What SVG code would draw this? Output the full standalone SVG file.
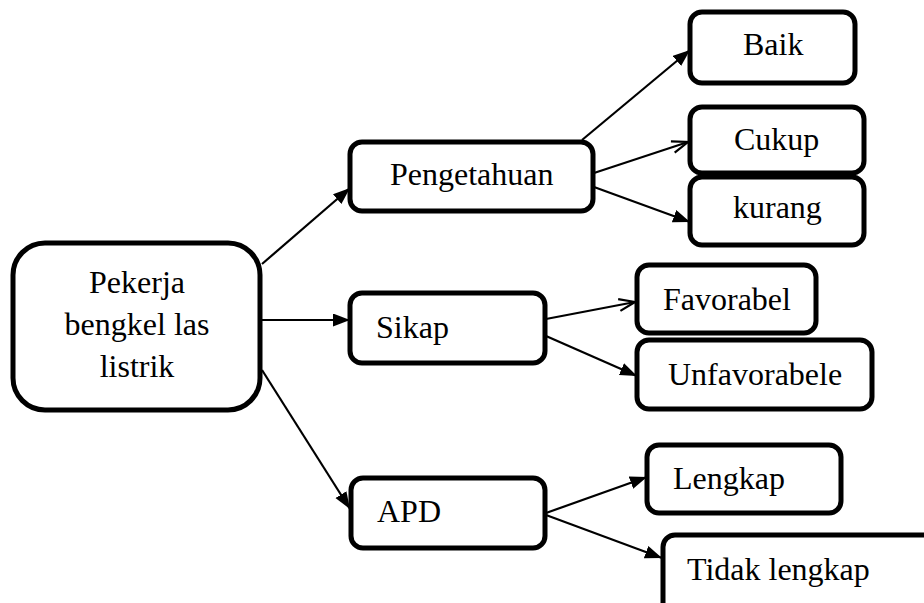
<svg xmlns="http://www.w3.org/2000/svg" width="924" height="603" viewBox="0 0 924 603">
<style>
.box{fill:#fff;stroke:#000;stroke-width:5}
.c{fill:none;stroke:#000;stroke-width:2.2}
</style>
<defs>
<marker id="af" markerUnits="userSpaceOnUse" markerWidth="18" markerHeight="14" refX="17" refY="6.5" orient="auto">
<path d="M0,0 L17,6.5 L0,13 z" fill="#000"/>
</marker>
<marker id="ao" markerUnits="userSpaceOnUse" markerWidth="20" markerHeight="16" refX="17" refY="7" orient="auto">
<path d="M1,1 L17,7 L1,13" fill="none" stroke="#000" stroke-width="2.2"/>
</marker>
</defs>
<rect width="924" height="603" fill="#fff"/>
<g id="connectors">
<line class="c" x1="262" y1="264" x2="350" y2="188" marker-end="url(#af)"/>
<line class="c" x1="262" y1="320" x2="350" y2="320" marker-end="url(#af)"/>
<line class="c" x1="262" y1="370" x2="350" y2="509" marker-end="url(#af)"/>
<line class="c" x1="582" y1="140" x2="690" y2="50" marker-end="url(#af)"/>
<line class="c" x1="594" y1="173" x2="688" y2="142" marker-end="url(#ao)"/>
<line class="c" x1="594" y1="187" x2="690" y2="222" marker-end="url(#af)"/>
<line class="c" x1="546" y1="319" x2="635" y2="302" marker-end="url(#ao)"/>
<line class="c" x1="546" y1="336" x2="637" y2="376" marker-end="url(#af)"/>
<line class="c" x1="546" y1="513" x2="647" y2="477" marker-end="url(#af)"/>
<line class="c" x1="546" y1="515" x2="662" y2="558" marker-end="url(#af)"/>
</g>
<g font-family="Liberation Serif, Tinos, DejaVu Serif, serif" font-size="32" fill="#000">
<g id="main">
<rect class="box" x="13" y="243" width="247" height="167" rx="32"/>
<text x="137" y="293" text-anchor="middle">Pekerja</text>
<text x="137" y="335" text-anchor="middle">bengkel las</text>
<text x="137" y="377" text-anchor="middle">listrik</text>
</g>
<g id="pengetahuan">
<rect class="box" x="350" y="142" width="243" height="69" rx="12"/>
<text x="390" y="185">Pengetahuan</text>
</g>
<g id="sikap">
<rect class="box" x="350" y="293" width="195" height="70" rx="12"/>
<text x="376" y="338">Sikap</text>
</g>
<g id="apd">
<rect class="box" x="351" y="478" width="194" height="70" rx="12"/>
<text x="377" y="522">APD</text>
</g>
<g id="baik">
<rect class="box" x="690" y="12" width="165" height="71" rx="12"/>
<text x="743" y="55">Baik</text>
</g>
<g id="cukup">
<rect class="box" x="690" y="107" width="174" height="66" rx="12"/>
<text x="734" y="150">Cukup</text>
</g>
<g id="kurang">
<rect class="box" x="690" y="177" width="174" height="68" rx="12"/>
<text x="733" y="218">kurang</text>
</g>
<g id="favorabel">
<rect class="box" x="637" y="265" width="179" height="68" rx="12"/>
<text x="663" y="310">Favorabel</text>
</g>
<g id="unfavorabele">
<rect class="box" x="637" y="340" width="235" height="69" rx="12"/>
<text x="668" y="385">Unfavorabele</text>
</g>
<g id="lengkap">
<rect class="box" x="647" y="445" width="194" height="68" rx="12"/>
<text x="673" y="489">Lengkap</text>
</g>
<g id="tidak-lengkap">
<rect class="box" x="663" y="535" width="300" height="100" rx="12"/>
<text x="687" y="580">Tidak lengkap</text>
</g>
</g>
</svg>
